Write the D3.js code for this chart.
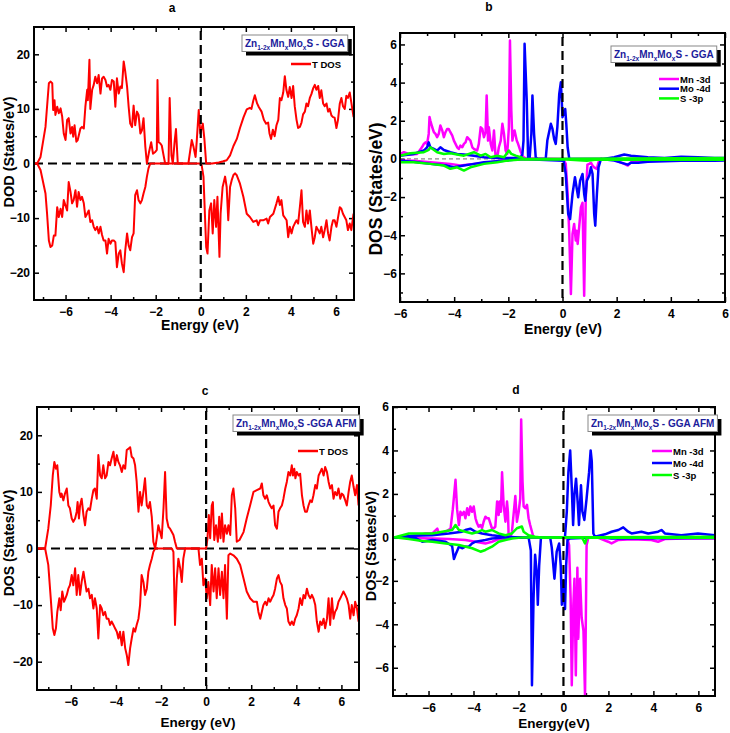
<!DOCTYPE html>
<meta charset="utf-8">
<script src="https://d3js.org/d3.v7.min.js"></script>
<body style="margin:0;background:#fff">
<div id="chart"></div>
</body>
<script>

// ---- data: [energy (eV), DOS (states/eV)] ----

// panel a : total DOS, GGA
var aUp = [[-7.38,0],[-7.26,0],[-7.11,1.2],[-6.89,6.7],[-6.74,14.7],[-6.67,15.0],[-6.59,14.7],[-6.55,9.8],[-6.49,11.6],[-6.45,8.9],[-6.37,10.4],[-6.30,9.2],[-6.22,10.1],[-6.15,8.6],[-6.08,5.5],[-6.00,4.3],[-5.93,8.0],[-5.86,8.3],[-5.78,5.5],[-5.71,6.7],[-5.66,4.9],[-5.60,7.0],[-5.52,4.0],[-5.46,4.3],[-5.34,6.4],[-5.27,6.7],[-5.19,6.4],[-5.12,10.4],[-5.04,13.5],[-5.01,11.6],[-4.94,19.0],[-4.90,10.0],[-4.82,13.5],[-4.75,14.4],[-4.68,15.9],[-4.60,14.7],[-4.53,16.2],[-4.45,12.8],[-4.38,15.6],[-4.31,15.9],[-4.23,15.3],[-4.16,14.1],[-4.09,14.4],[-4.01,13.5],[-3.94,15.3],[-3.86,15.0],[-3.79,10.4],[-3.72,15.6],[-3.64,12.8],[-3.57,14.1],[-3.50,13.8],[-3.42,18.7],[-3.35,16.8],[-3.27,14.1],[-3.20,10.4],[-3.13,7.3],[-3.05,6.7],[-2.98,10.6],[-2.91,7.0],[-2.83,9.5],[-2.76,8.9],[-2.68,5.5],[-2.61,6.1],[-2.54,8.3],[-2.46,3.1],[-2.39,0],[-2.30,2.0],[-2.20,3.9],[-2.12,1.8],[-2.02,2.1],[-1.95,2.5],[-1.92,15.3],[-1.87,3.9],[-1.80,3.7],[-1.73,3.3],[-1.65,1.5],[-1.58,0],[-1.43,0],[-1.38,12.0],[-1.30,1.5],[-1.24,0],[-1.16,4.0],[-1.10,6.3],[-1.02,0],[-0.55,0],[-0.40,4.3],[-0.32,3.0],[-0.23,1.2],[-0.18,4.0],[-0.09,9.8],[-0.02,5.5],[0.09,7.3],[0.16,4.5],[0.24,0],[0.50,0],[0.80,0.2],[1.00,0.4],[1.15,0.6],[1.30,1.5],[1.45,3.2],[1.60,4.5],[1.74,6.5],[1.90,8.5],[2.04,9.9],[2.18,10.2],[2.25,10.0],[2.33,11.5],[2.40,12.5],[2.50,11.0],[2.58,10.3],[2.70,9.5],[2.80,8.0],[2.90,7.3],[2.99,7.5],[3.05,5.5],[3.12,4.5],[3.20,6.2],[3.28,5.0],[3.36,7.0],[3.44,8.0],[3.51,12.0],[3.58,11.6],[3.66,13.0],[3.73,16.0],[3.80,13.5],[3.88,12.2],[3.95,14.0],[4.03,12.0],[4.10,14.2],[4.17,10.5],[4.25,8.0],[4.32,6.5],[4.40,6.7],[4.47,7.5],[4.54,9.0],[4.62,9.5],[4.69,11.0],[4.76,10.5],[4.84,12.0],[4.91,12.7],[4.99,13.8],[5.06,14.4],[5.13,13.5],[5.21,14.2],[5.28,12.0],[5.35,13.4],[5.43,11.0],[5.50,10.5],[5.58,11.0],[5.65,9.5],[5.72,10.0],[5.80,8.8],[5.87,8.5],[5.94,8.4],[6.02,6.5],[6.09,8.0],[6.17,11.0],[6.24,12.0],[6.31,10.5],[6.39,10.0],[6.46,12.4],[6.53,12.0],[6.61,13.0],[6.68,11.2],[6.78,8.5]];
var aDown = [[-7.38,0],[-7.26,0],[-7.11,-1.2],[-6.89,-5.5],[-6.82,-9.2],[-6.74,-14.1],[-6.67,-15.3],[-6.59,-15.0],[-6.52,-13.2],[-6.45,-13.2],[-6.37,-8.0],[-6.30,-9.8],[-6.22,-8.3],[-6.15,-9.8],[-6.08,-6.7],[-5.93,-8.6],[-5.86,-3.4],[-5.78,-5.2],[-5.71,-7.3],[-5.64,-6.7],[-5.56,-4.9],[-5.49,-7.9],[-5.42,-5.2],[-5.34,-6.7],[-5.27,-6.1],[-5.19,-7.3],[-5.12,-9.8],[-5.04,-9.2],[-4.97,-8.6],[-4.90,-10.7],[-4.82,-10.4],[-4.75,-11.6],[-4.68,-12.2],[-4.60,-11.6],[-4.53,-12.8],[-4.45,-11.6],[-4.38,-13.1],[-4.31,-14.1],[-4.23,-14.1],[-4.16,-16.5],[-4.09,-13.8],[-4.01,-14.7],[-3.94,-14.1],[-3.86,-14.1],[-3.79,-14.4],[-3.72,-19.0],[-3.64,-16.5],[-3.57,-15.9],[-3.50,-18.3],[-3.42,-19.9],[-3.35,-15.9],[-3.27,-12.8],[-3.20,-15.0],[-3.13,-15.9],[-3.05,-13.5],[-2.98,-12.8],[-2.91,-5.8],[-2.83,-4.9],[-2.76,-6.7],[-2.68,-7.3],[-2.61,-6.7],[-2.54,-5.5],[-2.46,-4.3],[-2.39,-2.4],[-2.32,-0.9],[-2.24,0],[-0.05,0],[0.04,-0.3],[0.12,-2.4],[0.24,-15.3],[0.30,-16.5],[0.38,-8.6],[0.46,-7.3],[0.53,-12.8],[0.60,-6.7],[0.68,-11.6],[0.74,-6.1],[0.83,-17.1],[0.88,-9.2],[0.97,-4.3],[1.08,-2.4],[1.15,-4.3],[1.22,-10.4],[1.30,-4.3],[1.37,-3.1],[1.45,-2.1],[1.52,-1.8],[1.59,-2.1],[1.74,-3.7],[1.89,-6.1],[2.04,-9.2],[2.18,-9.8],[2.33,-10.7],[2.48,-10.4],[2.55,-11.3],[2.63,-10.4],[2.77,-10.4],[2.92,-10.1],[2.99,-11.0],[3.07,-9.8],[3.22,-9.2],[3.36,-7.3],[3.44,-6.1],[3.51,-7.6],[3.58,-6.7],[3.66,-9.5],[3.81,-10.4],[3.88,-13.5],[3.95,-11.6],[4.03,-12.8],[4.10,-11.6],[4.17,-11.0],[4.25,-10.4],[4.32,-11.0],[4.40,-7.9],[4.47,-4.9],[4.54,-10.7],[4.62,-11.6],[4.69,-8.6],[4.76,-11.0],[4.84,-8.6],[4.91,-11.6],[4.99,-14.7],[5.06,-13.5],[5.13,-11.6],[5.21,-12.2],[5.28,-12.8],[5.35,-11.6],[5.43,-13.5],[5.50,-12.2],[5.58,-10.4],[5.65,-12.8],[5.72,-14.1],[5.80,-11.6],[5.87,-10.4],[5.94,-10.4],[6.02,-11.6],[6.17,-8.0],[6.24,-8.3],[6.31,-9.2],[6.46,-10.4],[6.53,-12.2],[6.61,-11.0],[6.68,-12.2],[6.78,-9.2]];

// panel b : partial DOS, GGA
var bMnUp = [[-6,0.25],[-5.86,0.35],[-5.62,0.23],[-5.37,0.26],[-5.19,0.61],[-5.12,0.79],[-5.06,0.87],[-5.0,0.79],[-4.94,1.31],[-4.91,2.2],[-4.88,2.01],[-4.81,1.66],[-4.75,1.4],[-4.69,1.31],[-4.63,1.14],[-4.57,1.31],[-4.51,1.75],[-4.44,1.49],[-4.38,1.14],[-4.32,1.4],[-4.26,1.57],[-4.20,1.57],[-4.14,1.4],[-4.07,1.22],[-4.01,0.96],[-3.95,0.79],[-3.89,0.61],[-3.83,0.52],[-3.77,0.7],[-3.70,0.61],[-3.64,0.79],[-3.58,0.87],[-3.52,1.14],[-3.46,1.05],[-3.40,0.96],[-3.33,0.61],[-3.27,0.52],[-3.15,0.44],[-3.09,0.79],[-3.02,1.66],[-2.96,1.57],[-2.90,1.14],[-2.84,1.4],[-2.80,3.32],[-2.75,0.96],[-2.72,1.66],[-2.65,0.79],[-2.59,0.44],[-2.53,1.49],[-2.47,0.09],[-2.41,0.09],[-2.35,0.61],[-2.28,0.96],[-2.22,1.84],[-2.16,1.31],[-2.10,0.44],[-2.04,0.26],[-1.98,1.66],[-1.94,6.21],[-1.89,2.53],[-1.85,0.96],[-1.81,1.31],[-1.77,1.49],[-1.69,0.96],[-1.64,0.79],[-1.54,0.35],[-1.44,0.09],[-1.36,0.03],[0.2,0],[6,0]];
var bMnDown = [[-6,-0.09],[-5.5,-0.1],[-4.88,-0.17],[-4.14,-0.26],[-3.77,-0.35],[-3.27,-0.26],[-2.65,-0.17],[-2.16,-0.05],[-1.5,0],[0.04,-0.03],[0.12,-0.26],[0.19,-1.84],[0.25,-3.93],[0.31,-7.08],[0.37,-3.93],[0.43,-3.41],[0.49,-4.28],[0.52,-3.76],[0.56,-4.46],[0.62,-3.5],[0.68,-2.53],[0.74,-2.3],[0.80,-7.17],[0.86,-2.0],[0.92,-0.3],[0.99,-0.26],[1.05,-0.2],[1.11,-0.35],[1.17,-0.44],[1.27,-0.52],[1.33,-0.17],[1.42,0],[1.91,-0.05],[2.28,-0.26],[2.41,-0.35],[2.53,-0.17],[3.15,-0.09],[4.38,-0.05],[6,-0.05]];
var bMoUp = [[-6,0.17],[-5.5,0.26],[-5.12,0.44],[-5.0,0.61],[-4.94,0.87],[-4.88,0.61],[-4.75,0.52],[-4.63,0.44],[-4.51,0.61],[-4.38,0.47],[-4.14,0.35],[-3.89,0.26],[-3.64,0.23],[-3.27,0.17],[-2.90,0.09],[-2.41,0.05],[-1.8,0.05],[-1.54,0.09],[-1.48,0.26],[-1.44,0.96],[-1.40,6.03],[-1.32,3.06],[-1.27,0.09],[-1.21,0.09],[-1.15,1.31],[-1.11,3.32],[-1.05,1.31],[-0.99,0.09],[-0.93,0],[-0.62,0],[-0.56,0.96],[-0.43,1.84],[-0.37,1.57],[-0.31,1.05],[-0.25,0.79],[-0.19,1.66],[-0.12,3.41],[-0.06,4.02],[0,2.19],[0.04,2.36],[0.10,2.62],[0.14,1.84],[0.19,0.61],[0.25,0],[1.5,0],[1.91,0.09],[2.28,0.23],[2.53,0.17],[3.15,0.09],[3.77,0.05],[4.38,0.12],[5.0,0.09],[5.62,0.05],[6,0.05]];
var bMoDown = [[-6,-0.09],[-5.5,-0.15],[-4.88,-0.26],[-4.26,-0.35],[-4.01,-0.44],[-3.64,-0.35],[-3.27,-0.26],[-2.90,-0.17],[-2.16,-0.09],[-1.5,0],[0.04,-0.09],[0.12,-0.79],[0.21,-2.88],[0.28,-3.15],[0.37,-1.84],[0.46,-0.96],[0.52,-1.5],[0.58,-2.01],[0.65,-1.14],[0.74,-0.79],[0.80,-1.84],[0.84,-2.19],[0.90,-1.14],[0.99,-0.87],[1.05,-0.44],[1.11,-0.79],[1.17,-2.88],[1.21,-3.5],[1.27,-1.84],[1.33,-0.44],[1.42,0],[1.91,-0.09],[2.41,-0.3],[2.53,-0.2],[2.8,-0.2],[3.15,-0.15],[3.77,-0.12],[4.38,-0.1],[5.0,-0.1],[5.62,-0.09],[6,-0.08]];
var bSUp = [[-6,0.17],[-5.62,0.3],[-5.12,0.35],[-4.94,0.47],[-4.88,0.61],[-4.63,0.35],[-4.38,0.26],[-4.14,0.3],[-3.64,0.17],[-3.27,0.35],[-3.02,0.17],[-2.84,0.26],[-2.65,0.09],[-2.41,0.17],[-2.16,0.09],[-1.98,0.44],[-1.89,0.26],[-1.73,0.17],[-1.54,0.09],[-1.42,0],[6,0.05]];
var bSDown = [[-6,-0.17],[-5.5,-0.17],[-4.88,-0.26],[-4.38,-0.35],[-4.14,-0.52],[-3.89,-0.44],[-3.64,-0.61],[-3.40,-0.44],[-3.15,-0.35],[-2.90,-0.26],[-2.41,-0.17],[-2.04,-0.09],[-1.54,-0.03],[0,-0.02],[0.9,-0.1],[1.2,-0.05],[6,-0.05]];

// panel c : total DOS, GGA AFM
var cUp = [[-7.51,0],[-7.14,0],[-7.0,3.5],[-6.89,7.6],[-6.80,12.9],[-6.73,15.3],[-6.66,14.1],[-6.60,14.7],[-6.51,10.0],[-6.45,9.1],[-6.41,9.7],[-6.33,8.5],[-6.26,9.7],[-6.18,10.6],[-6.11,7.6],[-6.04,7.1],[-5.96,5.3],[-5.89,4.7],[-5.81,5.3],[-5.74,6.5],[-5.70,8.2],[-5.64,5.3],[-5.59,7.6],[-5.52,8.8],[-5.44,5.9],[-5.37,4.1],[-5.30,6.5],[-5.22,7.1],[-5.15,6.8],[-5.07,8.8],[-5.00,10.3],[-4.93,10.6],[-4.85,8.8],[-4.78,16.5],[-4.70,12.9],[-4.63,12.4],[-4.56,14.7],[-4.48,12.4],[-4.41,12.9],[-4.33,15.3],[-4.26,14.7],[-4.19,15.9],[-4.11,17.1],[-4.04,14.7],[-3.96,16.5],[-3.89,15.3],[-3.82,14.7],[-3.74,13.5],[-3.67,14.7],[-3.59,14.1],[-3.52,17.4],[-3.45,17.6],[-3.37,17.9],[-3.30,16.2],[-3.22,15.9],[-3.15,14.7],[-3.08,11.8],[-3.00,6.5],[-2.93,10.0],[-2.86,7.6],[-2.78,10.0],[-2.71,12.4],[-2.63,7.6],[-2.56,7.1],[-2.49,8.2],[-2.41,5.6],[-2.34,1.2],[-2.26,0],[-2.19,1.8],[-2.12,4.1],[-2.04,2.9],[-1.97,1.8],[-1.89,7.1],[-1.82,13.5],[-1.75,5.3],[-1.67,3.8],[-1.60,3.5],[-1.52,2.9],[-1.45,2.4],[-1.38,1.2],[-1.30,0],[0,0],[0.06,1.8],[0.12,5.9],[0.18,1.8],[0.25,7.6],[0.30,8.2],[0.36,1.5],[0.44,4.1],[0.52,1.2],[0.58,5.6],[0.64,1.8],[0.70,6.2],[0.77,1.2],[0.84,4.1],[0.92,2.6],[0.99,4.1],[1.07,2.4],[1.14,9.4],[1.21,10.6],[1.29,7.1],[1.36,1.2],[1.48,1.5],[1.66,2.9],[1.80,5.3],[1.95,7.6],[2.10,10.0],[2.25,10.3],[2.40,10.6],[2.47,11.5],[2.54,9.4],[2.62,8.8],[2.69,9.4],[2.77,8.2],[2.84,7.6],[2.91,7.1],[2.99,7.6],[3.06,4.1],[3.14,3.5],[3.21,6.5],[3.28,7.1],[3.36,7.6],[3.43,8.8],[3.51,10.6],[3.58,11.8],[3.65,13.5],[3.73,12.9],[3.80,14.7],[3.85,12.9],[3.91,14.1],[3.96,12.4],[4.02,13.5],[4.10,12.9],[4.17,13.2],[4.25,9.4],[4.32,7.6],[4.39,6.5],[4.47,6.5],[4.54,7.6],[4.62,8.5],[4.69,8.2],[4.76,9.4],[4.84,11.2],[4.91,10.6],[4.99,12.9],[5.06,13.5],[5.13,14.1],[5.21,12.9],[5.28,14.4],[5.36,13.5],[5.43,11.8],[5.50,10.6],[5.58,11.2],[5.65,8.8],[5.72,10.0],[5.80,9.4],[5.87,10.6],[5.95,8.8],[6.02,9.7],[6.09,9.4],[6.17,8.5],[6.24,7.6],[6.32,10.0],[6.39,11.8],[6.46,12.9],[6.54,10.9],[6.61,9.4],[6.69,11.2],[6.76,7.6]];
var cDown = [[-7.51,0],[-7.14,0],[-7.0,-2.9],[-6.89,-8.8],[-6.80,-14.1],[-6.73,-15.3],[-6.66,-14.1],[-6.60,-11.2],[-6.51,-8.8],[-6.45,-10.9],[-6.38,-7.6],[-6.30,-9.4],[-6.24,-8.8],[-6.18,-8.2],[-6.11,-7.1],[-6.04,-6.5],[-5.96,-4.7],[-5.89,-6.5],[-5.81,-3.5],[-5.74,-8.2],[-5.67,-4.7],[-5.59,-8.2],[-5.52,-5.9],[-5.44,-4.1],[-5.37,-5.9],[-5.30,-7.6],[-5.22,-7.1],[-5.15,-8.8],[-5.07,-8.2],[-5.00,-10.6],[-4.93,-8.8],[-4.85,-10.6],[-4.78,-15.9],[-4.70,-10.0],[-4.63,-10.6],[-4.56,-11.8],[-4.48,-11.2],[-4.41,-12.4],[-4.33,-12.4],[-4.26,-13.5],[-4.19,-12.9],[-4.11,-13.5],[-4.04,-14.1],[-3.96,-14.7],[-3.89,-15.9],[-3.82,-14.7],[-3.74,-17.1],[-3.67,-14.7],[-3.59,-17.6],[-3.52,-18.8],[-3.45,-20.6],[-3.37,-17.6],[-3.30,-15.9],[-3.22,-14.1],[-3.15,-14.7],[-3.08,-13.5],[-3.00,-12.4],[-2.93,-10.0],[-2.86,-4.7],[-2.78,-5.9],[-2.71,-8.2],[-2.63,-7.1],[-2.56,-4.1],[-2.49,-2.9],[-2.41,-1.8],[-2.34,-0.6],[-2.26,0],[-1.52,0],[-1.45,-0.6],[-1.38,-13.5],[-1.30,-5.3],[-1.23,-1.8],[-1.15,-3.5],[-1.08,-5.9],[-1.01,-1.8],[-0.93,0],[-0.34,0],[-0.27,-2.9],[-0.19,-1.8],[-0.12,-6.5],[-0.04,-5.3],[0.03,-8.8],[0.10,-5.9],[0.18,-10.0],[0.25,-2.9],[0.33,-7.6],[0.40,-3.5],[0.47,-8.8],[0.55,-3.5],[0.62,-8.2],[0.70,-4.1],[0.77,-8.8],[0.84,-2.9],[0.92,-12.4],[0.99,-1.2],[1.07,-0.9],[1.21,-1.2],[1.36,-1.8],[1.51,-2.9],[1.66,-5.3],[1.80,-7.6],[1.95,-8.8],[2.10,-9.4],[2.25,-9.4],[2.32,-11.2],[2.40,-12.4],[2.54,-10.0],[2.62,-9.4],[2.69,-10.0],[2.77,-8.8],[2.84,-9.4],[2.91,-8.8],[2.99,-8.2],[3.06,-7.1],[3.14,-5.3],[3.21,-4.7],[3.28,-5.9],[3.36,-6.5],[3.43,-8.8],[3.51,-10.0],[3.58,-10.6],[3.65,-12.9],[3.73,-13.5],[3.80,-12.9],[3.88,-13.5],[3.95,-12.4],[4.02,-11.8],[4.10,-10.6],[4.17,-8.8],[4.25,-10.0],[4.32,-8.2],[4.39,-8.8],[4.47,-7.1],[4.54,-8.2],[4.62,-8.8],[4.69,-8.2],[4.76,-8.8],[4.84,-10.0],[4.91,-12.9],[4.99,-14.7],[5.06,-12.9],[5.13,-13.5],[5.21,-12.4],[5.28,-14.1],[5.36,-12.4],[5.43,-8.8],[5.50,-13.5],[5.58,-8.8],[5.65,-12.4],[5.72,-11.2],[5.80,-10.6],[5.87,-9.4],[5.95,-8.8],[6.02,-8.2],[6.09,-7.6],[6.17,-8.2],[6.24,-8.8],[6.32,-10.0],[6.39,-12.4],[6.46,-10.0],[6.54,-11.8],[6.61,-9.4],[6.69,-10.6],[6.76,-12.9]];

// panel d : partial DOS, GGA AFM
var dMnUp = [[-7.53,0],[-6.87,0.03],[-6.43,0.1],[-6.13,0.18],[-5.83,0.18],[-5.61,0.4],[-5.54,0.18],[-5.24,0.26],[-5.02,0.4],[-4.92,1.3],[-4.80,2.65],[-4.73,1.3],[-4.65,0.57],[-4.58,1.18],[-4.51,1.03],[-4.43,1.18],[-4.36,0.88],[-4.28,1.34],[-4.21,1.03],[-4.14,1.42],[-4.06,1.18],[-3.99,1.42],[-3.91,0.88],[-3.84,0.65],[-3.77,0.49],[-3.69,0.57],[-3.62,0.42],[-3.55,0.72],[-3.47,0.95],[-3.40,0.88],[-3.32,0.88],[-3.25,0.65],[-3.18,0.42],[-3.10,0.42],[-3.03,0.49],[-2.95,1.65],[-2.88,1.03],[-2.84,1.65],[-2.78,1.18],[-2.73,3.0],[-2.66,1.5],[-2.58,0.72],[-2.51,1.65],[-2.47,1.18],[-2.44,0.18],[-2.36,0],[-2.29,0.26],[-2.22,1.03],[-2.14,1.9],[-2.07,0.72],[-1.99,1.18],[-1.92,1.8],[-1.88,5.43],[-1.82,2.57],[-1.77,1.42],[-1.70,1.34],[-1.62,1.5],[-1.55,0.88],[-1.48,0.57],[-1.40,0.26],[-1.33,0],[6.74,0]];
var dMnDown = [[-7.53,0],[-5.83,-0.05],[-5.10,-0.08],[-4.36,-0.12],[-3.91,-0.2],[-3.47,-0.28],[-3.18,-0.2],[-2.88,-0.08],[-2.58,-0.05],[-2.0,0],[0,-0.02],[0.18,-0.05],[0.25,-0.35],[0.32,-2.8],[0.37,-6.8],[0.44,-3.1],[0.49,-1.9],[0.55,-6.35],[0.62,-1.4],[0.66,-4.66],[0.74,-1.9],[0.81,-3.7],[0.89,-4.3],[0.96,-7.3],[1.03,-0.35],[1.11,0],[1.5,0],[1.99,-0.2],[2.14,-0.28],[2.44,-0.12],[3.03,-0.09],[3.91,-0.12],[4.21,-0.2],[4.51,-0.08],[5.5,-0.05],[6.74,-0.05]];
var dMoUp = [[-7.53,0],[-6.72,0.08],[-5.83,0.1],[-5.10,0.18],[-4.51,0.26],[-4.36,0.34],[-4.14,0.4],[-3.91,0.26],[-3.62,0.18],[-3.18,0.1],[-2.58,0.03],[-2.0,0],[0,0],[0.07,0.03],[0.15,1.2],[0.22,3.0],[0.30,4.0],[0.37,2.3],[0.43,0.57],[0.49,2.0],[0.56,2.7],[0.64,1.5],[0.69,0.57],[0.78,2.4],[0.84,1.2],[0.93,0.8],[1.03,1.8],[1.14,3.0],[1.21,4.0],[1.26,3.5],[1.33,0.18],[1.40,0.03],[1.85,0.14],[2.14,0.26],[2.44,0.34],[2.66,0.46],[2.88,0.26],[3.03,0.18],[3.47,0.26],[3.77,0.18],[4.21,0.26],[4.36,0.34],[4.51,0.18],[5.24,0.1],[5.98,0.18],[6.74,0.1]];
var dMoDown = [[-7.53,0],[-6.57,-0.03],[-6.28,-0.2],[-5.83,-0.12],[-5.24,-0.2],[-4.95,-0.4],[-4.87,-1.0],[-4.80,-0.8],[-4.65,-0.43],[-4.51,-0.5],[-4.36,-0.43],[-4.21,-0.43],[-4.06,-0.28],[-3.91,-0.2],[-3.47,-0.12],[-3.18,-0.05],[-2.58,0],[-1.55,0],[-1.45,-0.6],[-1.40,-6.8],[-1.33,-2.8],[-1.26,-0.8],[-1.18,-1.74],[-1.14,-3.1],[-1.08,-1.3],[-1.00,0],[-0.59,0],[-0.52,-0.46],[-0.40,-1.9],[-0.30,-0.66],[-0.19,-0.28],[-0.12,-1.3],[-0.07,-3.1],[0,-2.0],[0.07,-3.3],[0.12,-1.3],[0.18,-0.12],[0.30,-0.05],[1.5,0],[2.14,-0.05],[6.74,-0.03]];
var dSUp = [[-7.53,0],[-7.16,0.1],[-6.87,0.18],[-5.83,0.18],[-5.39,0.26],[-4.95,0.34],[-4.80,0.57],[-4.65,0.34],[-4.36,0.26],[-4.06,0.18],[-3.77,0.26],[-3.62,0.34],[-3.47,0.26],[-3.18,0.34],[-2.88,0.18],[-2.58,0.1],[-2.29,0.18],[-2.07,0.42],[-1.85,0.5],[-1.77,0.26],[-1.55,0.1],[-1.26,0.03],[-1.0,0],[6.74,0.03]];
var dSDown = [[-7.53,0],[-6.87,-0.08],[-6.28,-0.17],[-5.83,-0.2],[-5.24,-0.28],[-4.65,-0.35],[-4.06,-0.5],[-3.69,-0.66],[-3.47,-0.58],[-3.18,-0.43],[-2.88,-0.2],[-2.58,-0.12],[-2.29,-0.05],[-1.8,0],[0.81,0],[0.9,-0.15],[0.96,-0.28],[1.03,-0.05],[1.11,0],[6.74,-0.02]];

// tick values
var xMajor = [-6, -4, -2, 0, 2, 4, 6];
var xMinor = [-7, -5, -3, -1, 1, 3, 5];
var totMajor = [-20, -10, 0, 10, 20];
var totMinor = [-15, -5, 5, 15];
var pdosMajor = [-6, -4, -2, 0, 2, 4, 6];
var pdosMinor = [-7, -5, -3, -1, 1, 3, 5];

var RED = "#ff0000", MAG = "#ff00ff", BLUE = "#0000ff", GREEN = "#00ff00";
var FONT = "'Liberation Sans', Arial, sans-serif";

var svg = d3.select("#chart").append("svg")
    .attr("width", 730)
    .attr("height", 733)
    .style("font-family", FONT);

function drawPanel(p) {
    var x = d3.scaleLinear().domain(p.xd).range([p.left, p.right]);
    var y = d3.scaleLinear().domain(p.yd).range([p.bottom, p.top]);
    var g = svg.append("g");

    // clip
    g.append("clipPath").attr("id", "clip-" + p.name)
        .append("rect")
        .attr("x", p.left).attr("y", p.top)
        .attr("width", p.right - p.left).attr("height", p.bottom - p.top);

    // axes, ticks pointing inwards on all four sides
    function styleAxis(a) {
        a.select(".domain").remove();
        a.selectAll("line").attr("stroke", "#000").attr("stroke-width", 1.5);
        a.selectAll("text").attr("font-family", FONT).attr("font-weight", "bold")
            .attr("font-size", 12).attr("fill", "#000");
    }
    g.append("g").attr("transform", "translate(0," + p.bottom + ")")
        .call(d3.axisBottom(x).tickValues(p.xMajor).tickSizeInner(-5).tickSizeOuter(0).tickPadding(7).tickFormat(d3.format("d")))
        .call(styleAxis);
    g.append("g").attr("transform", "translate(0," + p.bottom + ")")
        .call(d3.axisBottom(x).tickValues(p.xMinor).tickSizeInner(-3).tickSizeOuter(0).tickFormat(""))
        .call(styleAxis);
    g.append("g").attr("transform", "translate(0," + p.top + ")")
        .call(d3.axisTop(x).tickValues(p.xMajor).tickSizeInner(-5).tickSizeOuter(0).tickFormat(""))
        .call(styleAxis);
    g.append("g").attr("transform", "translate(0," + p.top + ")")
        .call(d3.axisTop(x).tickValues(p.xMinor).tickSizeInner(-3).tickSizeOuter(0).tickFormat(""))
        .call(styleAxis);
    g.append("g").attr("transform", "translate(" + p.left + ",0)")
        .call(d3.axisLeft(y).tickValues(p.yMajor).tickSizeInner(-5).tickSizeOuter(0).tickPadding(p.yPad).tickFormat(d3.format("d")))
        .call(styleAxis);
    g.append("g").attr("transform", "translate(" + p.left + ",0)")
        .call(d3.axisLeft(y).tickValues(p.yMinor).tickSizeInner(-3).tickSizeOuter(0).tickFormat(""))
        .call(styleAxis);
    g.append("g").attr("transform", "translate(" + p.right + ",0)")
        .call(d3.axisRight(y).tickValues(p.yMajor).tickSizeInner(-5).tickSizeOuter(0).tickFormat(""))
        .call(styleAxis);
    g.append("g").attr("transform", "translate(" + p.right + ",0)")
        .call(d3.axisRight(y).tickValues(p.yMinor).tickSizeInner(-3).tickSizeOuter(0).tickFormat(""))
        .call(styleAxis);

    var plot = g.append("g").attr("clip-path", "url(#clip-" + p.name + ")");

    // zero reference lines
    if (p.hzero === "thick") {
        plot.append("line")
            .attr("x1", p.left).attr("x2", p.right)
            .attr("y1", y(0)).attr("y2", y(0))
            .attr("stroke", "#000").attr("stroke-width", 2.2).attr("stroke-dasharray", "9,5");
    } else if (p.hzero === "thin") {
        plot.append("line")
            .attr("x1", p.left).attr("x2", p.right)
            .attr("y1", y(0)).attr("y2", y(0))
            .attr("stroke", "#444").attr("stroke-width", 0.8).attr("stroke-dasharray", "4,3");
    }

    var line = d3.line().x(function (d) { return x(d[0]); }).y(function (d) { return y(d[1]); });
    p.series.forEach(function (s) {
        plot.append("path")
            .datum(s.data)
            .attr("d", line)
            .attr("fill", "none")
            .attr("stroke", s.color)
            .attr("stroke-width", s.width)
            .attr("stroke-linejoin", "round");
    });

    // Fermi level
    plot.append("line")
        .attr("x1", x(0)).attr("x2", x(0))
        .attr("y1", p.top + 4).attr("y2", p.bottom)
        .attr("stroke", "#000").attr("stroke-width", 2.2).attr("stroke-dasharray", "9,5");

    // frame
    g.append("rect")
        .attr("x", p.left).attr("y", p.top)
        .attr("width", p.right - p.left).attr("height", p.bottom - p.top)
        .attr("fill", "none").attr("stroke", "#000").attr("stroke-width", 2);

    // panel letter
    g.append("text").attr("x", p.titleX).attr("y", p.titleY)
        .attr("text-anchor", "middle").attr("font-weight", "bold").attr("font-size", 12)
        .text(p.name);

    // axis titles
    g.append("text")
        .attr("transform", "translate(" + p.yLabX + "," + p.yLabY + ") rotate(-90)")
        .attr("text-anchor", "middle").attr("dominant-baseline", "central")
        .attr("font-weight", "bold").attr("font-size", p.yLabSize)
        .text(p.yLabel);
    g.append("text")
        .attr("x", p.xLabX).attr("y", p.xLabY)
        .attr("text-anchor", "middle").attr("font-weight", "bold").attr("font-size", p.xLabSize)
        .text(p.xLabel);

    // compound label box with drop shadow
    var lab = g.append("text")
        .attr("x", p.boxX + 3).attr("y", p.boxY + 12)
        .attr("font-weight", "bold").attr("font-size", 10).attr("fill", "#1c1c9c");
    lab.append("tspan").text("Zn");
    lab.append("tspan").attr("font-size", 6.5).attr("dy", 2.5).text("1-2x");
    lab.append("tspan").attr("dy", -2.5).text("Mn");
    lab.append("tspan").attr("font-size", 6.5).attr("dy", 2.5).text("x");
    lab.append("tspan").attr("dy", -2.5).text("Mo");
    lab.append("tspan").attr("font-size", 6.5).attr("dy", 2.5).text("x");
    lab.append("tspan").attr("dy", -2.5).text(p.boxTail);
    var w = lab.node().getComputedTextLength() + 6;
    g.insert("rect", function () { return lab.node(); })
        .attr("x", p.boxX + 4).attr("y", p.boxY + 4)
        .attr("width", w).attr("height", 16.5).attr("fill", "#000");
    g.insert("rect", function () { return lab.node(); })
        .attr("x", p.boxX).attr("y", p.boxY)
        .attr("width", w).attr("height", 16.5)
        .attr("fill", "#fff").attr("stroke", "#888").attr("stroke-width", 1);

    // legend
    p.legend.forEach(function (l, i) {
        var ly = p.legY + i * p.legStep;
        g.append("line")
            .attr("x1", p.legX).attr("x2", p.legX + 20)
            .attr("y1", ly).attr("y2", ly)
            .attr("stroke", l.color).attr("stroke-width", 2.5);
        g.append("text")
            .attr("x", p.legX + 21).attr("y", ly + 3.5)
            .attr("font-weight", "bold").attr("font-size", 9.5)
            .text(l.label);
    });
}

drawPanel({
    name: "a", left: 34, right: 354, top: 27, bottom: 300,
    xd: [-7.4, 6.8], yd: [-25, 25],
    xMajor: xMajor, xMinor: xMinor, yMajor: totMajor, yMinor: totMinor, yPad: 4,
    hzero: "thick",
    series: [{ data: aUp, color: RED, width: 2 }, { data: aDown, color: RED, width: 2 }],
    titleX: 172, titleY: 12,
    yLabel: "DOD (States/eV)", yLabX: 9, yLabY: 152, yLabSize: 14.5,
    xLabel: "Energy (eV)", xLabX: 200, xLabY: 330, xLabSize: 14,
    boxX: 242, boxY: 35, boxTail: "S - GGA",
    legend: [{ label: "T DOS", color: RED }], legX: 291, legY: 64, legStep: 0
});

drawPanel({
    name: "b", left: 400, right: 725, top: 33, bottom: 302,
    xd: [-6, 6], yd: [-7.5, 6.6],
    xMajor: xMajor, xMinor: [-5, -3, -1, 1, 3, 5], yMajor: pdosMajor, yMinor: pdosMinor, yPad: 3,
    hzero: "thin",
    series: [
        { data: bMnUp, color: MAG, width: 2.5 }, { data: bMnDown, color: MAG, width: 2.5 },
        { data: bMoUp, color: BLUE, width: 2.5 }, { data: bMoDown, color: BLUE, width: 2.5 },
        { data: bSUp, color: GREEN, width: 2.5 }, { data: bSDown, color: GREEN, width: 2.5 }
    ],
    titleX: 489, titleY: 11,
    yLabel: "DOS (States/eV)", yLabX: 376, yLabY: 189, yLabSize: 17.5,
    xLabel: "Energy (eV)", xLabX: 563, xLabY: 334, xLabSize: 14,
    boxX: 611, boxY: 46, boxTail: "S - GGA",
    legend: [{ label: "Mn -3d", color: MAG }, { label: "Mo -4d", color: BLUE }, { label: "S -3p", color: GREEN }],
    legX: 659, legY: 79, legStep: 9.7
});

drawPanel({
    name: "c", left: 37, right: 359, top: 407, bottom: 690,
    xd: [-7.5, 6.78], yd: [-25, 25],
    xMajor: xMajor, xMinor: xMinor, yMajor: totMajor, yMinor: totMinor, yPad: 4,
    hzero: "thick",
    series: [{ data: cUp, color: RED, width: 2 }, { data: cDown, color: RED, width: 2 }],
    titleX: 205, titleY: 395,
    yLabel: "DOS (States/eV)", yLabX: 8.5, yLabY: 543, yLabSize: 14,
    xLabel: "Energy (eV)", xLabX: 198, xLabY: 727, xLabSize: 13.5,
    boxX: 233, boxY: 415, boxTail: "S -GGA AFM",
    legend: [{ label: "T DOS", color: RED }], legX: 298, legY: 451, legStep: 0
});

drawPanel({
    name: "d", left: 393, right: 715, top: 407, bottom: 696,
    xd: [-7.58, 6.74], yd: [-7.3, 6],
    xMajor: xMajor, xMinor: xMinor, yMajor: pdosMajor, yMinor: pdosMinor, yPad: 4,
    hzero: "none",
    series: [
        { data: dMnUp, color: MAG, width: 2.5 }, { data: dMnDown, color: MAG, width: 2.5 },
        { data: dMoUp, color: BLUE, width: 2.5 }, { data: dMoDown, color: BLUE, width: 2.5 },
        { data: dSUp, color: GREEN, width: 2.5 }, { data: dSDown, color: GREEN, width: 2.5 }
    ],
    titleX: 516, titleY: 394,
    yLabel: "DOS (States/eV)", yLabX: 371, yLabY: 546, yLabSize: 14.5,
    xLabel: "Energy(eV)", xLabX: 554, xLabY: 728, xLabSize: 13.5,
    boxX: 588, boxY: 415, boxTail: "S - GGA AFM",
    legend: [{ label: "Mn -3d", color: MAG }, { label: "Mo -4d", color: BLUE }, { label: "S -3p", color: GREEN }],
    legX: 652, legY: 451, legStep: 12
});

</script>
